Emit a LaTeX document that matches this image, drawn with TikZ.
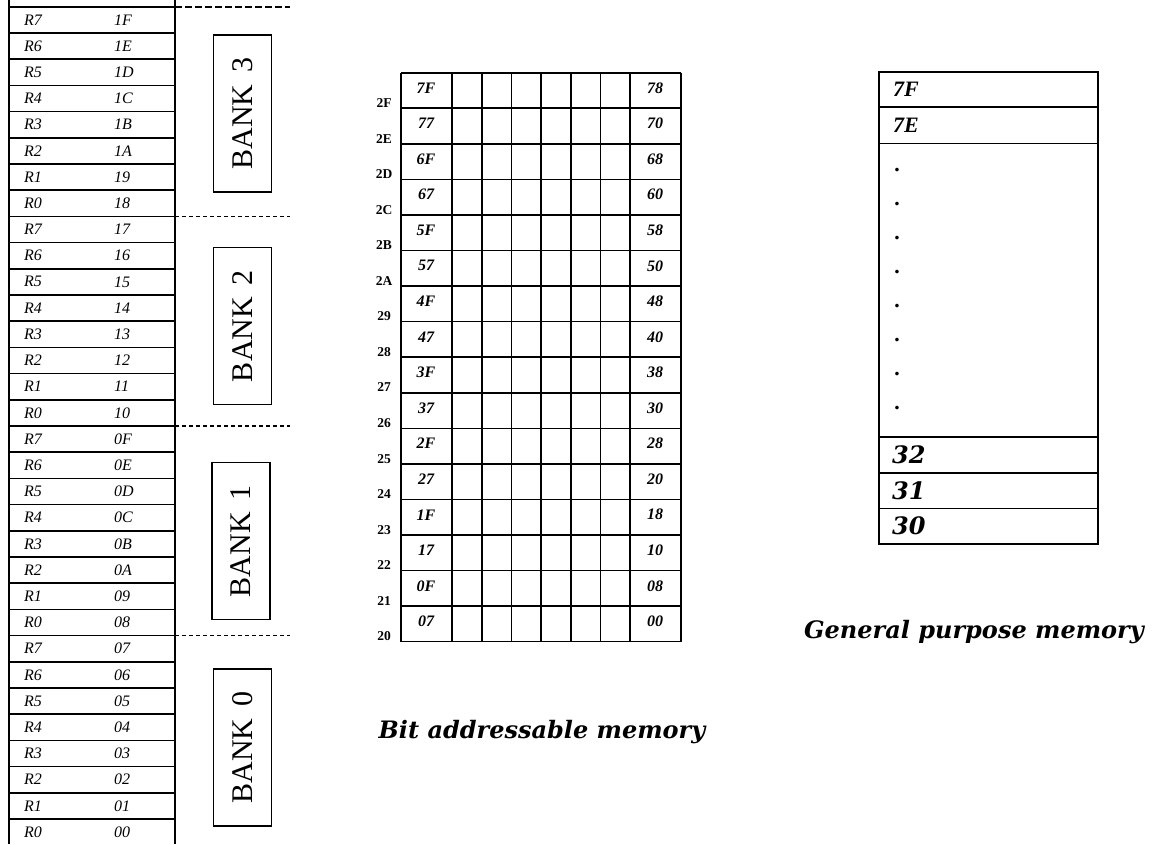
\documentclass[tikz,border=0pt]{standalone}
\usepackage{fontspec}
\setmainfont{Liberation Serif}
\newfontfamily\cambriafont{DejaVu Serif}
\usetikzlibrary{positioning}

\tikzset{
	tableline/.style={line width=1.6pt},
	regtext/.style={font=\fontsize{16}{16}\selectfont\itshape, anchor=west, inner sep=0pt},
	bankbox/.style={draw, line width=1.6pt, rotate=90, minimum width=157pt, minimum height=58pt, inner sep=0pt, font=\fontsize{30}{30}\selectfont},
	banksep/.style={line width=1.2pt, dash pattern=on 4pt off 3pt},
	bittext/.style={font=\fontsize{16}{16}\selectfont\bfseries\itshape, inner sep=0pt},
	bytetext/.style={font=\fontsize{13.5}{13.5}\selectfont\bfseries, inner sep=0pt},
	gptext/.style={font=\fontsize{22}{22}\selectfont\bfseries\itshape, anchor=west, inner sep=0pt},
	gpbig/.style={font=\cambriafont\fontsize{24}{24}\selectfont\bfseries\itshape, anchor=west, inner sep=0pt},
	caption/.style={font=\cambriafont\fontsize{24}{24}\selectfont\bfseries\itshape, inner sep=0pt}
}

\begin{document}
\begin{tikzpicture}[x=1pt, y=-1pt]
	\useasboundingbox (0,0) rectangle (1152,844);

	% Register banks R0-R7
	\draw [tableline] (9,0) -- (9,844);
	\draw [tableline] (175,0) -- (175,844);
	\foreach \k in {0,...,31}
		\draw [tableline] (9,{6.7+26.2*\k}) -- (175,{6.7+26.2*\k});
	\foreach \addr [count=\k from 0] in {1F,1E,1D,1C,1B,1A,19,18,17,16,15,14,13,12,11,10,0F,0E,0D,0C,0B,0A,09,08,07,06,05,04,03,02,01,00} {
		\pgfmathtruncatemacro{\reg}{7-mod(\k,8)}
		\node [regtext] (r\k) at (24,{19.8+26.2*\k}) {R\reg};
		\node [regtext] (a\k) at (114,{19.8+26.2*\k}) {\addr};
	}

	% Bank separators
	\draw [line width=1.8pt, dash pattern=on 7pt off 3pt] (175,6.7) -- (290,6.7);
	\foreach \k in {8,16,24}
		\draw [banksep] (175,{6.7+26.2*\k}) -- (290,{6.7+26.2*\k});

	% Bank labels
	\node [bankbox] (bank3) at (242.5,113.5) {BANK\hspace{0.4em}3\hspace{9pt}};
	\node [bankbox] (bank2) at (242.5,326)   {BANK\hspace{0.4em}2\hspace{9pt}};
	\node [bankbox] (bank1) at (241,541)     {BANK\hspace{0.4em}1\hspace{9pt}};
	\node [bankbox] (bank0) at (242.5,747.5) {BANK\hspace{0.4em}0\hspace{9pt}};

	% Bit addressable area
	\foreach \x in {401,452,481.7,511.3,541,570.7,600.3,630,681}
		\draw [tableline] (\x,72.7) -- (\x,641.7);
	\foreach \k in {0,...,16}
		\draw [tableline] (401,{72.7+35.56*\k}) -- (681,{72.7+35.56*\k});
	\foreach \msb/\lsb/\byte [count=\k from 0] in {7F/78/2F,77/70/2E,6F/68/2D,67/60/2C,5F/58/2B,57/50/2A,4F/48/29,47/40/28,3F/38/27,37/30/26,2F/28/25,27/20/24,1F/18/23,17/10/22,0F/08/21,07/00/20} {
		\node [bittext]  (msb\k)  at (426,{88+35.56*\k})  {\msb};
		\node [bittext]  (lsb\k)  at (655,{88+35.56*\k})  {\lsb};
		\node [bytetext] (byte\k) at (384,{103+35.56*\k}) {\byte};
	}

	% General purpose area
	\draw [tableline] (879,71.7) rectangle (1098,544);
	\foreach \y in {107,143.3,436.7,472.7,508.3}
		\draw [tableline] (879,\y) -- (1098,\y);
	\node [gptext] (gp7F) at (893,89)  {7F};
	\node [gptext] (gp7E) at (893,125) {7E};
	\foreach \k in {0,...,7}
		\node [gptext] (dot\k) at (895,{170+34*\k}) {.};
	\node [gpbig] (gp32) at (892,454.7) {32};
	\node [gpbig] (gp31) at (892,490.5) {31};
	\node [gpbig] (gp30) at (892,526)   {30};

	% Captions
	\node [caption] (bitcap) at (542,732) {Bit addressable memory};
	\node [caption] (gpcap)  at (974,632) {General purpose memory};
\end{tikzpicture}
\end{document}
